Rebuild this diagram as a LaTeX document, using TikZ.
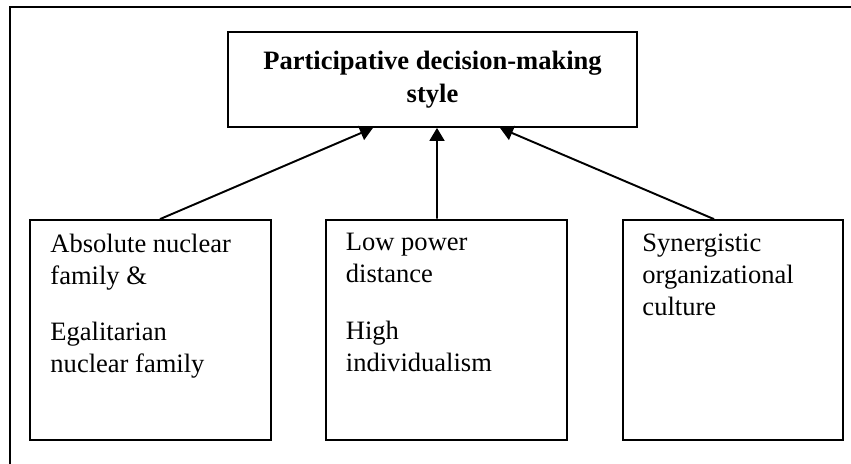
\documentclass[tikz,border=0pt]{standalone}
\usepackage{fontspec}
\setmainfont{Liberation Serif}
\usetikzlibrary{arrows.meta, positioning, calc}

\begin{document}
\begin{tikzpicture}[
    >={Triangle[length=7.4pt, width=8.5pt]},
    factor/.style={rectangle, draw, line width=1pt, minimum height=4.4cm, inner sep=0pt},
    factortext/.style={align=left, inner sep=0pt, font=\fontsize{15.1}{18.2}\selectfont},
    link/.style={->, line width=1.1pt},
]

\useasboundingbox (0,0) rectangle (17.02,9.26);

% Outer frame (only top and left edges show)
\draw[line width=1.5pt] (0.2,-0.1) |- (17.2,9.12);

% Outcome
\node (Style) at (8.65,7.67) [rectangle, draw, line width=1pt, minimum width=8.18cm, minimum height=1.9cm, align=center, font=\bfseries\fontsize{15.1}{18.6}\selectfont] {Participative decision-making\\style};

% Antecedents
\node (Family) at (3.01,2.66) [factor, minimum width=4.82cm] {};
\node (NationalCulture) at (8.93,2.66) [factor, minimum width=4.82cm, line width=1.6pt] {};
\node (OrgCulture) at (14.66,2.66) [factor, minimum width=4.4cm] {};

\node (FamilyText) [factortext, below right=0.29cm and 0.42cm of Family.north west] {Absolute nuclear\\family \&\\[14pt]Egalitarian\\nuclear family};
\node (NationalText) [factortext, below right=0.29cm and 0.42cm of NationalCulture.north west] {Low power\\distance\\[14pt]High\\individualism};
\node (OrgText) [factortext, below right=0.29cm and 0.4cm of OrgCulture.north west] {Synergistic\\organizational\\culture};

% Links to outcome
\draw[link] ([xshift=0.19cm]Family.north) -- ([xshift=-1.19cm]Style.south);
\draw[link] ([xshift=-0.19cm]NationalCulture.north) -- ([xshift=0.09cm]Style.south);
\draw[link] ([xshift=-0.38cm]OrgCulture.north) -- ([xshift=1.35cm]Style.south);

\end{tikzpicture}
\end{document}
